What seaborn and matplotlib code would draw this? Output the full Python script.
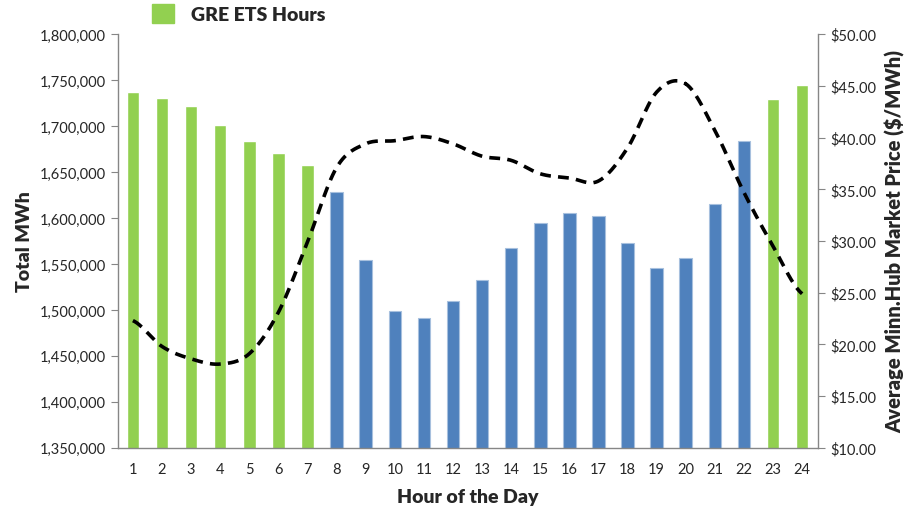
import numpy as np
import pandas as pd
import seaborn as sns
import matplotlib.pyplot as plt
import matplotlib.patches as mpatches
from matplotlib.ticker import FuncFormatter, MultipleLocator

hours = list(range(1, 25))
total_mwh = [1736600, 1730100, 1721400, 1700800, 1683700, 1670300, 1657300,
             1627900, 1554300, 1498900, 1491300, 1509500, 1532600, 1567400,
             1594200, 1605800, 1602200, 1572500, 1545300, 1556800, 1614900,
             1683300, 1729000, 1744600]
price = [22.3, 19.8, 18.6, 18.1, 19.1, 23.1, 29.9, 37.1, 39.4, 39.7, 40.1, 39.4,
         38.2, 37.8, 36.5, 36.1, 35.8, 39.0, 44.4, 45.2, 40.7, 34.7, 29.5, 24.9]
ets_hours = [1, 2, 3, 4, 5, 6, 7, 23, 24]

green = '#92D050'
blue = '#4F81BD'
grey = '#868686'

sns.set_style('white')
plt.rcParams['font.family'] = ['Lato', 'DejaVu Sans']

df = pd.DataFrame({'hour': hours, 'mwh': total_mwh, 'price': price})
bar_colors = {h: (green if h in ets_hours else blue) for h in hours}

fig = plt.figure(figsize=(9.06, 5.10), dpi=100)
ax = fig.add_axes([0.130, 0.120, 0.773, 0.811])
sns.barplot(data=df, x='hour', y='mwh', hue='hour', palette=bar_colors,
            legend=False, width=0.43, saturation=1, ax=ax)
for patch, h in zip(ax.patches, hours):
    if h not in ets_hours:
        patch.set_edgecolor('#A7C0DE')
        patch.set_linewidth(0.8)

ax.set_ylim(1350000, 1800000)
ax.set_xlim(-0.52, 23.55)
ax.yaxis.set_major_locator(MultipleLocator(50000))
ax.yaxis.set_major_formatter(FuncFormatter(lambda v, p: f'{v:,.0f}'))
ax.set_xlabel('Hour of the Day', fontsize=14, fontweight='heavy', labelpad=9)
ax.set_ylabel('Total MWh', fontsize=14, fontweight='heavy', labelpad=5)

# Excel-style tick marks between categories
ax.set_xticks(np.arange(len(hours)))
ax.set_xticklabels(hours)
ax.set_xticks(np.arange(len(hours) + 1) - 0.5, minor=True)
ax.tick_params(axis='x', which='major', length=0, labelsize=10.5, pad=10)
ax.tick_params(axis='x', which='minor', length=5, color=grey, direction='out')
ax.tick_params(axis='y', length=5, color=grey, direction='out', labelsize=10.5, left=True)

for side in ['left', 'bottom']:
    ax.spines[side].set_color(grey)
    ax.spines[side].set_linewidth(1)
ax.spines['top'].set_visible(False)
ax.spines['right'].set_visible(False)

# price line on secondary axis, smoothed like an Excel smooth line
ax2 = ax.twinx()
x = np.arange(len(hours), dtype=float)
y = np.array(price)
xs, ys = [], []
for i in range(len(x) - 1):
    p0 = y[max(i - 1, 0)]
    p1 = y[i]
    p2 = y[i + 1]
    p3 = y[min(i + 2, len(y) - 1)]
    t = np.linspace(0, 1, 30)
    seg = 0.5 * ((2 * p1) + (-p0 + p2) * t + (2 * p0 - 5 * p1 + 4 * p2 - p3) * t ** 2
                 + (-p0 + 3 * p1 - 3 * p2 + p3) * t ** 3)
    xs.extend(x[i] + t)
    ys.extend(seg)
ax2.plot(xs, ys, color='black', linestyle=(0, (3, 2)), linewidth=2.6)
ax2.set_ylim(10, 50)
ax2.yaxis.set_major_locator(MultipleLocator(5))
ax2.yaxis.set_major_formatter(FuncFormatter(lambda v, p: f'${v:.2f}'))
ax2.set_ylabel('Average Minn.Hub Market Price ($/MWh)', fontsize=14.5,
               fontweight='heavy', labelpad=7)
ax2.tick_params(axis='y', length=5, color=grey, direction='out', labelsize=10.5, right=True)
ax2.spines['right'].set_color(grey)
ax2.spines['right'].set_linewidth(1)
for side in ['top', 'left', 'bottom']:
    ax2.spines[side].set_visible(False)
ax2.set_xlim(-0.52, 23.55)

p1 = mpatches.Patch(color=green, label='GRE ETS Hours')
leg = fig.legend(handles=[p1], loc='upper left', bbox_to_anchor=(0.148, 1.025),
                 frameon=False, handlelength=1.15, handleheight=1.15,
                 handletextpad=0.9, prop={'size': 14, 'weight': 'heavy'})

fig.savefig('out.png', dpi=100)
